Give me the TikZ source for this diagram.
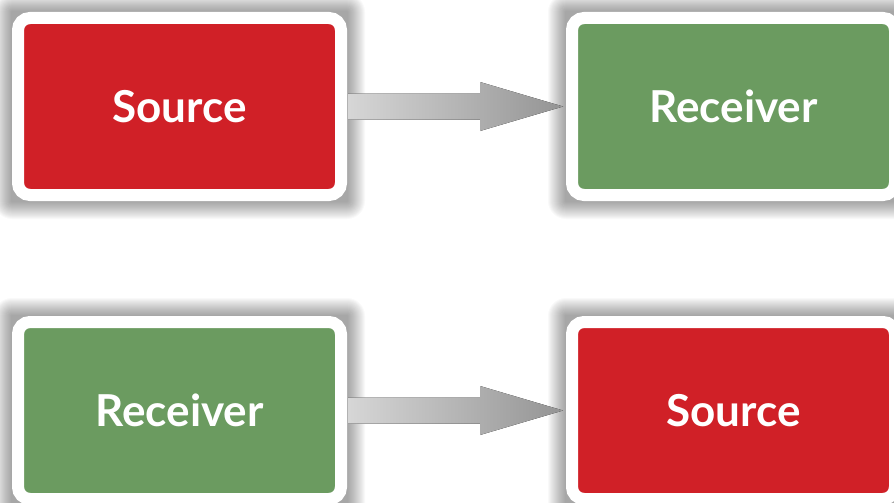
\documentclass[tikz,border=0pt]{standalone}
\usepackage{fontspec}
\setmainfont{Lato}
\usetikzlibrary{calc,backgrounds}
\definecolor{rojo}{RGB}{208,32,39}
\definecolor{verde}{RGB}{107,155,96}
\tikzset{
  caja/.style={draw=white, line width=12pt, rounded corners=12pt,
    minimum width=323pt, minimum height=177pt, text=white,
    font=\fontsize{44}{50}\selectfont\bfseries},
  flecha/.style={left color=black!16, right color=black!42},
  sombra/.style={black, opacity=0.022}
}

\begin{document}
\begin{tikzpicture}[x=1pt,y=-1pt]
\useasboundingbox (0,0) rectangle (894,503);
% Fila de arriba
\node[caja, fill=rojo] (fuente1) at (179.5,106.5) {Source};
\node[caja, fill=verde] (receptor1) at (733.5,106.5) {Receiver};
% Fila de abajo
\node[caja, fill=verde] (receptor2) at (179.5,410.5) {Receiver};
\node[caja, fill=rojo] (fuente2) at (733.5,410.5) {Source};
% Sombras
\begin{scope}[on background layer]
\foreach \n in {fuente1,receptor1,receptor2,fuente2}
  \foreach \g [evaluate=\g as \r using \g+16] in {1,...,18}
    \fill[sombra, rounded corners=\r pt] ($(\n.south west)+(-\g,\g)$) rectangle ($(\n.north east)+(\g,-\g)$);
\end{scope}
% Flecha de arriba
\fill[flecha] ($(fuente1.east)+(1,-13)$) -- ($(receptor1.west)+(-86,-13)$)
  -- ($(receptor1.west)+(-86,-24.5)$) -- ($(receptor1.west)+(-3,0)$)
  -- ($(receptor1.west)+(-86,24.5)$) -- ($(receptor1.west)+(-86,13)$)
  -- ($(fuente1.east)+(1,13)$) -- cycle;
% Flecha de abajo
\fill[flecha] ($(receptor2.east)+(1,-13)$) -- ($(fuente2.west)+(-86,-13)$)
  -- ($(fuente2.west)+(-86,-24.5)$) -- ($(fuente2.west)+(-3,0)$)
  -- ($(fuente2.west)+(-86,24.5)$) -- ($(fuente2.west)+(-86,13)$)
  -- ($(receptor2.east)+(1,13)$) -- cycle;
\end{tikzpicture}
\end{document}
